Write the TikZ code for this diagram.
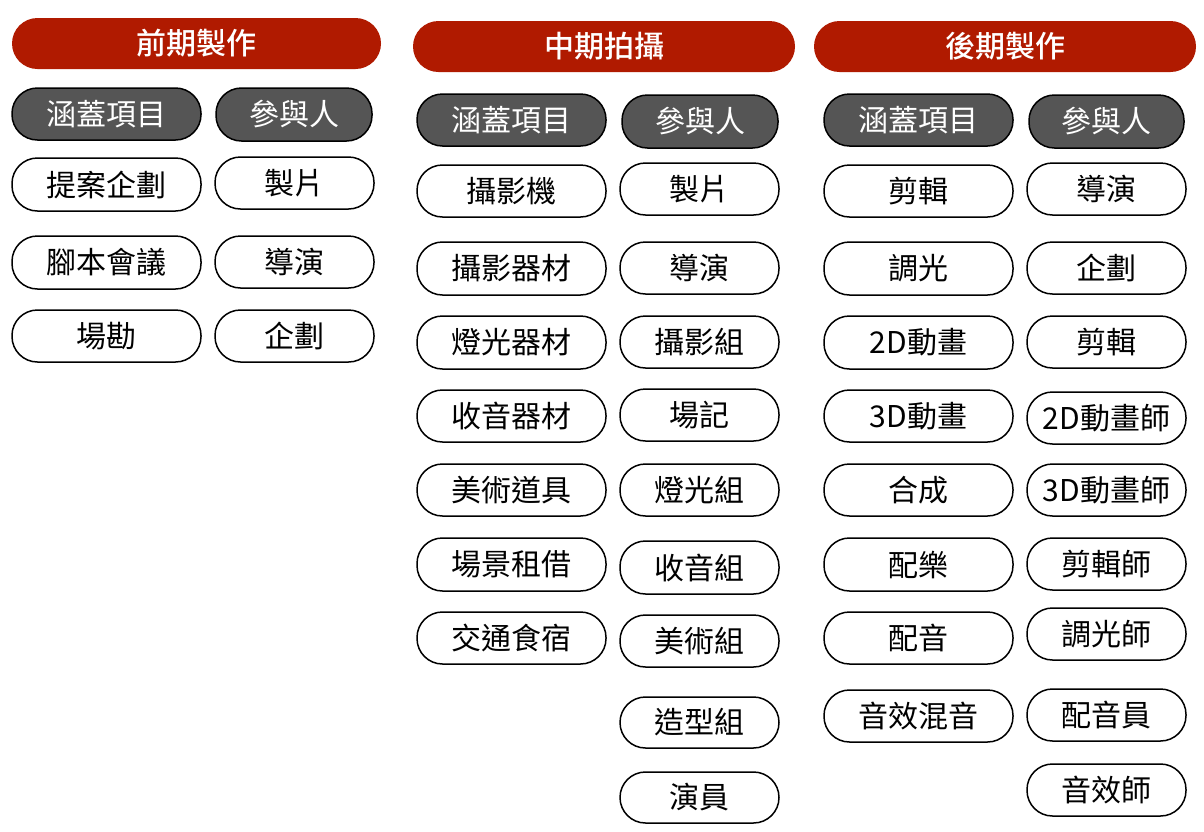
\documentclass[tikz,border=0pt]{standalone}
\usepackage{fontspec}
\setmainfont{Noto Sans CJK TC}
\newfontfamily\medfont{Noto Sans CJK TC Medium}
\definecolor{hdrred}{HTML}{B01A00}
\definecolor{darkgray}{HTML}{555555}
\tikzset{
  pillbase/.style={rounded corners=25.5pt, inner sep=0pt, align=center, font=\fontsize{30}{32}\selectfont},
  item/.style={pillbase, draw=black, line width=1.5pt, fill=white, text=black},
  head/.style={pillbase, draw=black, line width=1.5pt, fill=darkgray, text=white},
  phase/.style={pillbase, draw=none, fill=hdrred, text=white, font=\fontsize{30}{32}\selectfont\medfont},
}
\newcommand\pill[7][item]{%
  \node[#1, minimum width={(#4-#3)*1pt}, minimum height={(#6-#5)*1pt}] (#2) at ({(#3+#4)/2},{(#5+#6)/2}) {#7};}
\begin{document}
\begin{tikzpicture}[x=1pt,y=-1pt]
\useasboundingbox[fill=white] (0,0) rectangle (1204,831);
% column 1
\pill[phase]{p1}{12}{381}{18}{69}{前期製作}
\pill[head]{a0}{12}{201}{88}{140}{涵蓋項目}
\pill[head]{b0}{216}{372}{88}{141}{參與人}
\pill{a1}{12}{201}{158}{211}{提案企劃}
\pill{b1}{215}{374}{157}{209}{製片}
\pill{a2}{12}{201}{236}{289}{腳本會議}
\pill{b2}{215}{374}{236}{288}{導演}
\pill{a3}{12}{201}{310}{362}{場勘}
\pill{b3}{215}{374}{310}{362}{企劃}
% column 2
\pill[phase]{p2}{413}{795}{21}{72}{中期拍攝}
\pill[head]{c0}{417}{606}{94}{146}{涵蓋項目}
\pill[head]{d0}{622}{778}{95}{148}{參與人}
\pill{c1}{417}{606}{165}{217}{攝影機}
\pill{d1}{620}{779}{163}{215}{製片}
\pill{c2}{417}{606}{242}{295}{攝影器材}
\pill{d2}{620}{779}{242}{294}{導演}
\pill{c3}{417}{606}{316}{369}{燈光器材}
\pill{d3}{620}{779}{316}{368}{攝影組}
\pill{c4}{417}{606}{390}{442}{收音器材}
\pill{d4}{620}{779}{389}{441}{場記}
\pill{c5}{417}{606}{464}{516}{美術道具}
\pill{d5}{620}{779}{464}{516}{燈光組}
\pill{c6}{417}{606}{538}{591}{場景租借}
\pill{d6}{620}{779}{541}{594}{收音組}
\pill{c7}{417}{606}{612}{664}{交通食宿}
\pill{d7}{620}{779}{615}{667}{美術組}
\pill{d8}{620}{779}{697}{748}{造型組}
\pill{d9}{620}{779}{772}{823}{演員}
% column 3
\pill[phase]{p3}{814}{1196}{21}{72}{後期製作}
\pill[head]{e0}{824}{1013}{94}{146}{涵蓋項目}
\pill[head]{f0}{1029}{1184}{95}{148}{參與人}
\pill{e1}{824}{1013}{165}{217}{剪輯}
\pill{f1}{1027}{1186}{163}{215}{導演}
\pill{e2}{824}{1013}{242}{295}{調光}
\pill{f2}{1027}{1186}{242}{294}{企劃}
\pill{e3}{824}{1013}{316}{369}{2D動畫}
\pill{f3}{1027}{1186}{316}{368}{剪輯}
\pill{e4}{824}{1013}{390}{442}{3D動畫}
\pill{f4}{1027}{1186}{392}{444}{2D動畫師}
\pill{e5}{824}{1013}{464}{516}{合成}
\pill{f5}{1027}{1186}{464}{516}{3D動畫師}
\pill{e6}{824}{1013}{538}{591}{配樂}
\pill{f6}{1027}{1186}{538}{590}{剪輯師}
\pill{e7}{824}{1013}{612}{664}{配音}
\pill{f7}{1027}{1186}{608}{660}{調光師}
\pill{e8}{824}{1013}{690}{742}{音效混音}
\pill{f8}{1027}{1186}{689}{741}{配音員}
\pill{f9}{1027}{1186}{764}{816}{音效師}
\end{tikzpicture}
\end{document}
